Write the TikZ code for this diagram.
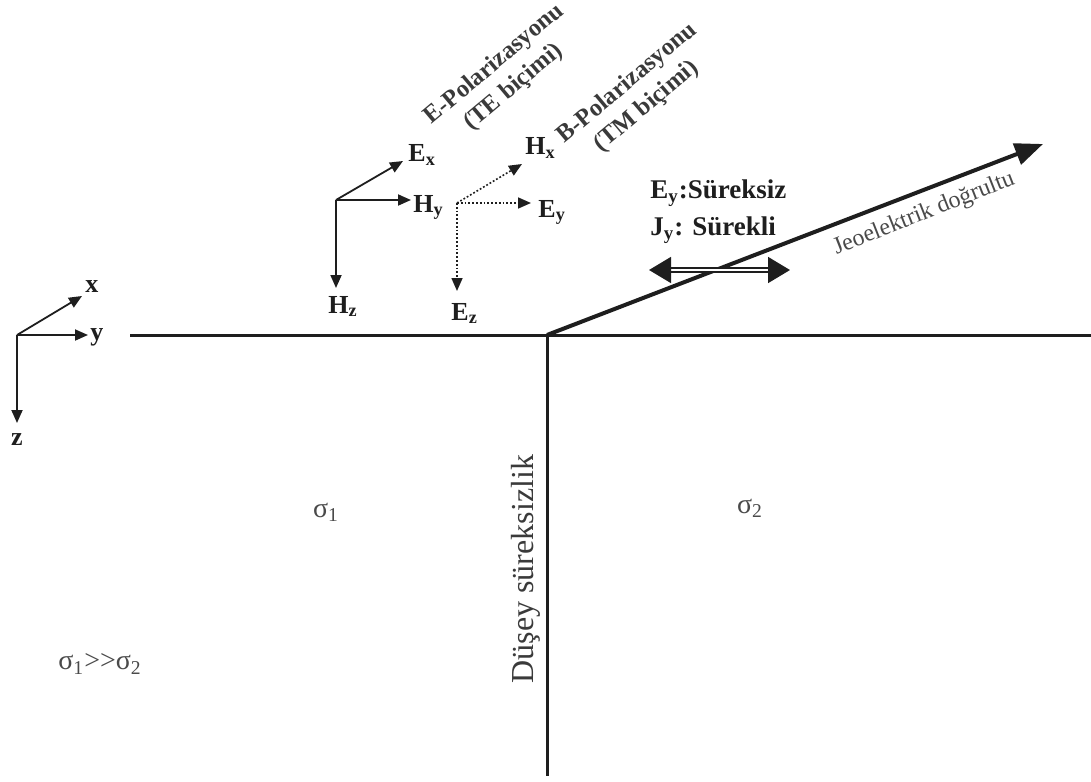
\documentclass[tikz,border=0pt]{standalone}
\usepackage{fontspec}
\setmainfont{Liberation Serif}
\usetikzlibrary{arrows.meta, positioning, calc}
\definecolor{inkDark}{HTML}{1E1E1E}
\definecolor{textGray}{HTML}{3A3A3A}
\definecolor{softGray}{HTML}{4A4A4A}

\begin{document}
\begin{tikzpicture}[x=0.5pt, y=-0.5pt,
    vec/.style={-{Triangle[length=6.5pt,width=5.5pt]}, line width=0.9pt, draw=inkDark},
    dotvec/.style={vec, densely dotted, line width=0.8pt},
    comp/.style={font=\bfseries\fontsize{13}{15}\selectfont, text=inkDark, inner sep=0pt},
    polar/.style={font=\bfseries\fontsize{12.3}{15}\selectfont, text=textGray, align=center, rotate=40, inner sep=0pt},
    region/.style={font=\fontsize{14}{16}\selectfont, text=softGray, inner sep=0pt},
    boundary/.style={line width=1.5pt, draw=inkDark}]
  \useasboundingbox (0,0) rectangle (1091,781);

  % coordinate axes
  \coordinate (ax0) at (17,335);
  \coordinate (axX) at (82,296);
  \coordinate (axY) at (88,335);
  \coordinate (axZ) at (17,423);
  \draw[vec] (ax0) -- (axX);
  \draw[vec] (ax0) -- (axY);
  \draw[vec] (ax0) -- (axZ);
  \node[comp, anchor=base west] (xLab) at (85,292) {x};
  \node[comp, anchor=base west] (yLab) at (90,340) {y};
  \node[comp, anchor=base] (zLab) at (17,445) {z};

  % surface and vertical contact
  \coordinate (surfL) at (130,335);
  \coordinate (surfR) at (1091,335);
  \coordinate (contact) at (547,335);
  \coordinate (contactLow) at (547,776);
  \draw[boundary] (surfL) -- (surfR);
  \draw[boundary] (contact) -- (contactLow);

  % E-polarization components
  \coordinate (eOrg) at (336,200);
  \coordinate (exTip) at (403,161);
  \coordinate (hyTip) at (411,200);
  \coordinate (hzTip) at (336,288);
  \draw[vec] (eOrg) -- (exTip);
  \draw[vec] (eOrg) -- (hyTip);
  \draw[vec] (eOrg) -- (hzTip);
  \node[comp, anchor=base west] (exLab) at (408,162) {E\textsubscript{x}};
  \node[comp, anchor=base west] (hyLab) at (413,212) {H\textsubscript{y}};
  \node[comp, anchor=base west] (hzLab) at (328,313) {H\textsubscript{z}};

  % B-polarization components
  \coordinate (bOrg) at (457,203);
  \coordinate (hxTip) at (522,164);
  \coordinate (eyTip) at (531,203);
  \coordinate (ezTip) at (457,291);
  \draw[dotvec] (bOrg) -- (hxTip);
  \draw[dotvec] (bOrg) -- (eyTip);
  \draw[dotvec] (bOrg) -- (ezTip);
  \node[comp, anchor=base west] (hxLab) at (525,155) {H\textsubscript{x}};
  \node[comp, anchor=base west] (eyLab) at (538,217) {E\textsubscript{y}};
  \node[comp, anchor=base west] (ezLab) at (451,320) {E\textsubscript{z}};

  % polarization titles
  \node[polar] (ePol) at (504,76) {E-Polarizasyonu\\(TE biçimi)};
  \node[polar] (bPol) at (637,95) {B-Polarizasyonu\\(TM biçimi)};

  % geoelectric strike
  \coordinate (strikeTip) at (1043,144);
  \draw[line width=2pt, draw=inkDark, -{Triangle[length=14pt,width=11pt]}] (contact) -- (strikeTip);
  \node[font=\fontsize{12}{14}\selectfont, text=softGray, rotate=21.5, inner sep=0pt] (strikeLab) at (924,214) {Jeoelektrik doğrultu};

  % continuity note
  \node[comp, font=\bfseries\fontsize{13.5}{15}\selectfont, anchor=base west] (eyNote) at (650,198) {E\textsubscript{y}:Süreksiz};
  \node[comp, font=\bfseries\fontsize{13.5}{15}\selectfont, anchor=base west] (jyNote) at (650,235) {J\textsubscript{y}: Sürekli};
  \coordinate (jL) at (649,270);
  \coordinate (jR) at (790,270);
  \draw[{Triangle[length=11pt,width=13pt]}-{Triangle[length=11pt,width=13pt]}, draw=inkDark, line width=0.8pt, double=white, double distance=1.4pt] (jL) -- (jR);

  % regions
  \node[font=\fontsize{16}{18}\selectfont, text=textGray, rotate=90, inner sep=0pt] (dusey) at (526,569) {Düşey süreksizlik};
  \node[region] (sig1) at (326,512) {σ\textsubscript{1}};
  \node[region] (sig2) at (750,508) {σ\textsubscript{2}};
  \node[region, anchor=west] (sigRel) at (58,664) {σ\textsubscript{1}>{}>σ\textsubscript{2}};
\end{tikzpicture}
\end{document}
